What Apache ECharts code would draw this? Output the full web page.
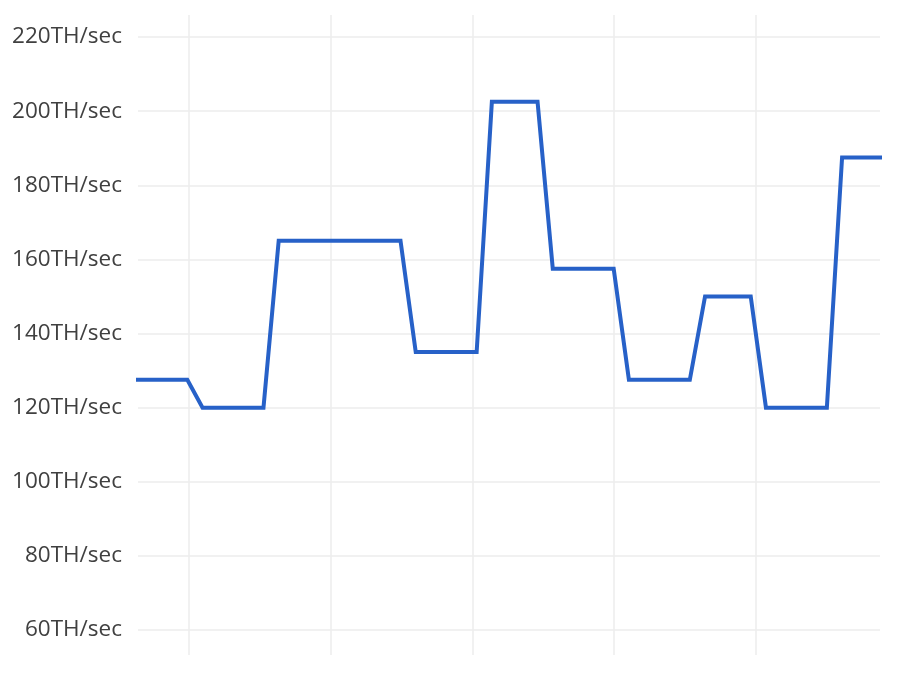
<!DOCTYPE html>
<html>
<head>
<meta charset="utf-8">
<script src="https://cdn.jsdelivr.net/npm/echarts@6/dist/echarts.min.js"></script>
<style>html,body{margin:0;padding:0;background:#fff;}#c{width:906px;height:692px;}</style>
</head>
<body>
<div id="c"></div>
<script>
// sample index (time steps) and hashrate values (TH/sec)
const pointIndex = [-4,-3,-2,-1,0,1,2,3,4,5,6,7,8,9,10,11,12,13,14,15,16,17,18,19,20,21,22,23,24,25,26,27,28,29,30,31,32,33,34,35,36,37,38,39,40,41,42,43,44,45,46];
const hashrate = [127.5,127.5,127.5,127.5,127.5,120,120,120,120,120,165,165,165,165,165,165,165,165,165,135,135,135,135,135,202.5,202.5,202.5,202.5,157.5,157.5,157.5,157.5,157.5,127.5,127.5,127.5,127.5,127.5,150,150,150,150,120,120,120,120,120,187.5,187.5,187.5,187.5];
// visible window of sample index
const viewRange = [-3.24, 45.49];
// time grid (vertical lines) window, in time-tick units
const timeRange = [-0.36, 4.877];
const yTicks = [60, 80, 100, 120, 140, 160, 180, 200, 220];
const yUnit = 'TH/sec';

const chart = echarts.init(document.getElementById('c'));
chart.setOption({
  animation: false,
  backgroundColor: '#ffffff',
  grid: [
    {left: 138, right: 26, top: 15, bottom: 37, containLabel: false},
    {left: 138, right: 26, top: 37, bottom: 62, containLabel: false}
  ],
  xAxis: [
    {gridIndex: 0, type: 'value', min: timeRange[0], max: timeRange[1], splitNumber: 5,
     axisLine: {show: false}, axisTick: {show: false}, axisLabel: {show: false},
     splitLine: {show: true, showMinLine: false, showMaxLine: false, lineStyle: {color: '#ececec', width: 1.5}}},
    {gridIndex: 1, type: 'value', min: viewRange[0], max: viewRange[1],
     axisLine: {show: false}, axisTick: {show: false}, axisLabel: {show: false}, splitLine: {show: false}}
  ],
  yAxis: [
    {gridIndex: 0, type: 'value', min: 0, max: 1, show: false, splitLine: {show: false}},
    {gridIndex: 1, type: 'value', min: yTicks[0], max: yTicks[yTicks.length - 1], interval: 20,
     axisLine: {show: false}, axisTick: {show: false},
     axisLabel: {formatter: '{value}' + yUnit, color: '#404040', fontFamily: 'Open Sans', fontSize: 22.5, margin: 16},
     splitLine: {show: true, lineStyle: {color: '#ececec', width: 1.5}}}
  ],
  series: [
    {type: 'line', xAxisIndex: 1, yAxisIndex: 1,
     data: pointIndex.map((k, i) => [k, hashrate[i]]),
     showSymbol: false, clip: true,
     lineStyle: {color: '#2761c8', width: 4, join: 'miter'},
     itemStyle: {color: '#2761c8'}}
  ]
});
</script>
</body>
</html>
